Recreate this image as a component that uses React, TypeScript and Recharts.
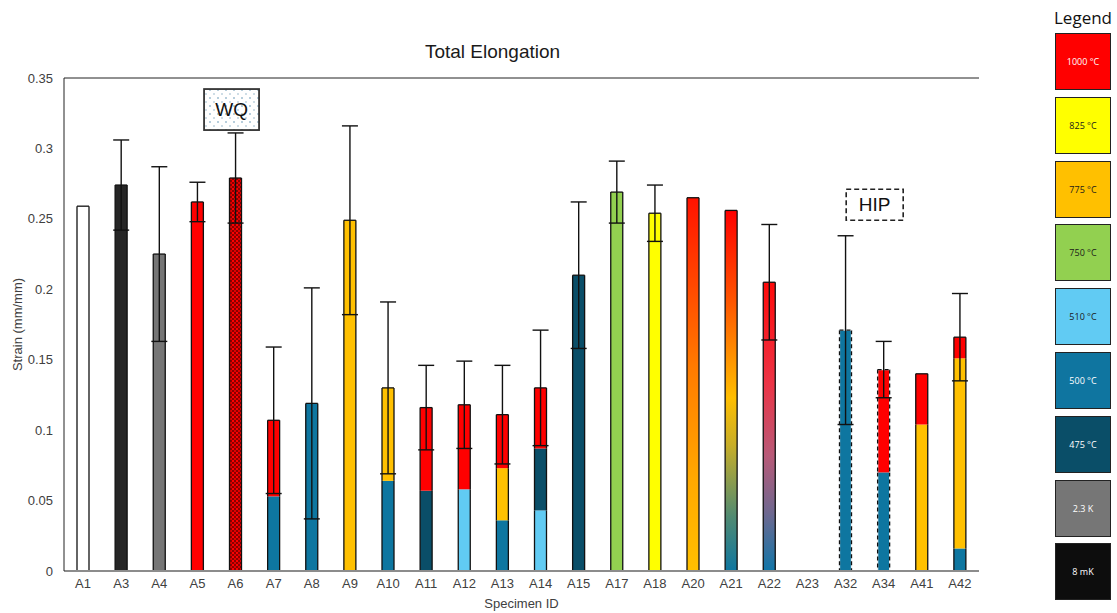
import React from 'react';
import { ComposedChart, Bar, Line, XAxis, YAxis, ErrorBar, ReferenceLine, ReferenceDot } from 'recharts';

const specimens = ['A1', 'A3', 'A4', 'A5', 'A6', 'A7', 'A8', 'A9', 'A10', 'A11', 'A12', 'A13', 'A14', 'A15', 'A17', 'A18', 'A20', 'A21', 'A22', 'A23', 'A32', 'A34', 'A41', 'A42'];
// stacked segments, bottom to top
const seg1 = [0.259, 0.274, 0.225, 0.262, 0.279, 0.053, 0.119, 0.249, 0.064, 0.057, 0.058, 0.036, 0.043, 0.210, 0.269, 0.254, 0.265, 0.256, 0.205, 0, 0.171, 0.070, 0.104, 0.016];
const seg2 = [0, 0, 0, 0, 0, 0.054, 0, 0, 0.066, 0.059, 0.060, 0.037, 0.044, 0, 0, 0, 0, 0, 0, 0, 0, 0.073, 0.036, 0.135];
const seg3 = [0, 0, 0, 0, 0, 0, 0, 0, 0, 0, 0, 0.038, 0.043, 0, 0, 0, 0, 0, 0, 0, 0, 0, 0, 0.015];
const errors = [null, 0.032, 0.062, 0.014, 0.032, 0.052, 0.082, 0.067, 0.061, 0.030, 0.031, 0.035, 0.041, 0.052, 0.022, 0.020, null, null, 0.041, null, 0.067, 0.020, null, 0.031];

const RED = '#FF0000', YEL = '#FFFF00', ORG = '#FFC000', GRN = '#92D050', LBL = '#61CBF3', BLU = '#0E76A0', TEAL = '#0A4E68', GRY = '#767676', BLK = '#262626';
const color1 = ['#FFFFFF', BLK, GRY, RED, 'url(#pA6)', BLU, BLU, ORG, BLU, TEAL, LBL, BLU, LBL, TEAL, GRN, YEL, 'url(#gA20)', 'url(#gA21)', 'url(#gA22)', '#FFFFFF', BLU, BLU, ORG, BLU];
const color2 = ['', '', '', '', '', RED, '', '', ORG, RED, RED, ORG, TEAL, '', '', '', '', '', '', '', '', RED, RED, ORG];
const color3 = ['', '', '', '', '', '', '', '', '', '', '', RED, RED, '', '', '', '', '', '', '', '', '', '', RED];
const dashedOutline = ['A32', 'A34'];

const yTicks = [0, 0.05, 0.1, 0.15, 0.2, 0.25, 0.3, 0.35];

const legendLabels = ['1000 °C', '825 °C', '775 °C', '750 °C', '510 °C', '500 °C', '475 °C', '2.3 K', '8 mK'];
const legendColors = ['#FF0000', '#FFFF00', '#FFC000', '#92D050', '#61CBF3', '#0F75A0', '#0A4E68', '#767676', '#0D0D0D'];
const legendText = ['#FFFFFF', '#1a1a1a', '#1a1a1a', '#1a1a1a', '#1a1a1a', '#FFFFFF', '#FFFFFF', '#FFFFFF', '#FFFFFF'];

const data = specimens.map((id, i) => ({
  id,
  s1: seg1[i],
  s2: seg2[i],
  s3: seg3[i],
  total: seg1[i] + seg2[i] + seg3[i],
  err: errors[i],
}));

const colorSets = [color1, color2, color3];

const makeShape = (k: number) => (props: any) => {
  const { x, y, width, height, payload } = props;
  if (!payload || height == null || Math.abs(height) < 0.01) return <g />;
  const i = specimens.indexOf(payload.id);
  const fill = colorSets[k][i];
  const segs = [payload.s1, payload.s2, payload.s3];
  const isTop = segs.slice(k + 1).every((v: number) => !v);
  const isBottom = k === 0;
  const dashed = dashedOutline.includes(payload.id);
  const top = Math.min(y, y + height);
  const h = Math.abs(height);
  const stroke = '#111';
  const sw = 1.3;
  const lines: any[] = [];
  const L = (x1: number, y1: number, x2: number, y2: number, key: string) => {
    if (dashed) {
      lines.push(<line key={key + 'w'} x1={x1} y1={y1} x2={x2} y2={y2} stroke="#e8f0f4" strokeWidth={sw} />);
      lines.push(<line key={key} x1={x1} y1={y1} x2={x2} y2={y2} stroke={stroke} strokeWidth={sw} strokeDasharray="4 3" />);
    } else {
      lines.push(<line key={key} x1={x1} y1={y1} x2={x2} y2={y2} stroke={stroke} strokeWidth={sw} />);
    }
  };
  L(x, top, x, top + h, 'l');
  L(x + width, top, x + width, top + h, 'r');
  if (isTop) L(x, top, x + width, top, 't');
  if (isBottom) L(x, top + h, x + width, top + h, 'b');
  return (
    <g>
      <rect x={x} y={top} width={width} height={h} fill={fill} />
      {lines}
    </g>
  );
};

const WQShape = (props: any) => {
  const { cx, cy } = props;
  const w = 55, h = 41;
  const bx = cx - 4 - w / 2, by = cy - h / 2;
  return (
    <g>
      <rect x={bx} y={by} width={w} height={h} fill="url(#pDots)" stroke="#333" strokeWidth={1.8} />
      <text x={bx + w / 2} y={by + h / 2} textAnchor="middle" dominantBaseline="central" fontSize={19} fill="#111">WQ</text>
    </g>
  );
};

const HIPShape = (props: any) => {
  const { cx, cy } = props;
  const w = 57, h = 31;
  const bx = cx - 9 - w / 2, by = cy - h / 2;
  return (
    <g>
      <rect x={bx} y={by} width={w} height={h} fill="#fff" stroke="#222" strokeWidth={1.6} strokeDasharray="5 3" />
      <text x={bx + w / 2} y={by + h / 2} textAnchor="middle" dominantBaseline="central" fontSize={19} fill="#111">HIP</text>
    </g>
  );
};

const YLabel = (props: any) => {
  const vb = props.viewBox || { x: 0, y: 78, width: 64, height: 493 };
  const x = vb.x + 17;
  const y = vb.y + vb.height / 2;
  return (
    <text x={x} y={y} transform={`rotate(-90, ${x}, ${y})`} textAnchor="middle" dominantBaseline="central" fontSize={13} fill="#404040">
      Strain (mm/mm)
    </text>
  );
};

const XLabel = (props: any) => {
  const vb = props.viewBox || { x: 64, y: 571, width: 915, height: 42 };
  const x = vb.x + vb.width / 2;
  const y = vb.y + 32;
  return (
    <text x={x} y={y} textAnchor="middle" dominantBaseline="central" fontSize={13} fill="#404040">
      Specimen ID
    </text>
  );
};

export default function App() {
  return (
    <div style={{ position: 'absolute', left: 0, top: 0, width: 1117, height: 613, background: '#fff', fontFamily: '"Liberation Sans", Arial, sans-serif' }}>
      <div style={{ position: 'absolute', left: 0, width: 985, top: 41, textAlign: 'center', fontSize: 19, color: '#1a1a1a' }}>Total Elongation</div>
      <ComposedChart width={1117} height={613} data={data} margin={{ top: 78, right: 138, bottom: 0, left: 0 }} barSize={12}>
        <defs>
          <linearGradient id="gA20" x1="0" y1="0" x2="0" y2="1">
            <stop offset="0%" stopColor="#FF1200" />
            <stop offset="45%" stopColor="#FF7A00" />
            <stop offset="75%" stopColor="#FFA800" />
            <stop offset="100%" stopColor="#FFC000" />
          </linearGradient>
          <linearGradient id="gA21" x1="0" y1="0" x2="0" y2="1">
            <stop offset="0%" stopColor="#FF0000" />
            <stop offset="25%" stopColor="#FF5500" />
            <stop offset="52%" stopColor="#FFBE00" />
            <stop offset="65%" stopColor="#C8AE28" />
            <stop offset="85%" stopColor="#508A72" />
            <stop offset="100%" stopColor="#0E76A0" />
          </linearGradient>
          <linearGradient id="gA22" x1="0" y1="0" x2="0" y2="1">
            <stop offset="0%" stopColor="#FF0A0A" />
            <stop offset="35%" stopColor="#EC3446" />
            <stop offset="60%" stopColor="#B85A78" />
            <stop offset="80%" stopColor="#6E6890" />
            <stop offset="100%" stopColor="#1176A8" />
          </linearGradient>
          <pattern id="pA6" patternUnits="userSpaceOnUse" width="4" height="4">
            <rect x="0" y="0" width="4" height="4" fill="#8A0000" />
            <rect x="0" y="0" width="2" height="2" fill="#FF0000" />
            <rect x="2" y="2" width="2" height="2" fill="#E00000" />
          </pattern>
          <pattern id="pDots" patternUnits="userSpaceOnUse" width="8" height="8">
            <rect x="0" y="0" width="8" height="8" fill="#fff" />
            <circle cx="2" cy="2" r="0.8" fill="#5B8FB0" />
            <circle cx="6" cy="6" r="0.8" fill="#8FB3C8" />
          </pattern>
        </defs>
        <XAxis
          dataKey="id"
          interval={0}
          tickLine={false}
          height={42}
          axisLine={{ stroke: '#8c8c8c', strokeWidth: 2 }}
          tick={{ fontSize: 13, fill: '#404040' }}
          label={<XLabel />}
        />
        <YAxis
          domain={[0, 0.35]}
          ticks={yTicks}
          allowDataOverflow
          width={64}
          tickLine={false}
          tickMargin={5}
          axisLine={{ stroke: '#222', strokeWidth: 1 }}
          tick={{ fontSize: 13, fill: '#404040' }}
          tickFormatter={(v: number) => String(Number(v.toFixed(2)))}
          label={<YLabel />}
        />
        <YAxis yAxisId="right" orientation="right" width={0} domain={[0, 0.35]} tick={false} tickLine={false} axisLine={{ stroke: '#222', strokeWidth: 1 }} />
        <ReferenceLine y={0.35} stroke="#222" strokeWidth={1} />
        <Bar dataKey="s1" stackId="a" isAnimationActive={false} shape={makeShape(0)} />
        <Bar dataKey="s2" stackId="a" isAnimationActive={false} shape={makeShape(1)} />
        <Bar dataKey="s3" stackId="a" isAnimationActive={false} shape={makeShape(2)} />
        <Line dataKey="total" stroke="none" dot={false} activeDot={false} isAnimationActive={false} legendType="none">
          <ErrorBar dataKey="err" width={8} stroke="#111" strokeWidth={1.4} direction="y" />
        </Line>
        <ReferenceDot x="A6" y={0.3276} r={0} shape={<WQShape />} />
        <ReferenceDot x="A34" y={0.26} r={0} shape={<HIPShape />} />
      </ComposedChart>
      <div style={{ position: 'absolute', left: 1040, width: 86, top: 6, textAlign: 'center', fontSize: 17, fontFamily: '"Open Sans", sans-serif', color: '#111' }}>Legend</div>
      {legendLabels.map((lab, i) => (
        <div
          key={lab}
          style={{
            position: 'absolute',
            left: 1055,
            top: 33 + i * 63.8,
            width: 54,
            height: 55,
            background: legendColors[i],
            border: '1.5px solid #222',
            display: 'flex',
            alignItems: 'center',
            justifyContent: 'center',
            fontSize: 9,
            color: legendText[i],
            fontFamily: '"Open Sans", sans-serif',
          }}
        >
          {lab}
        </div>
      ))}
    </div>
  );
}
